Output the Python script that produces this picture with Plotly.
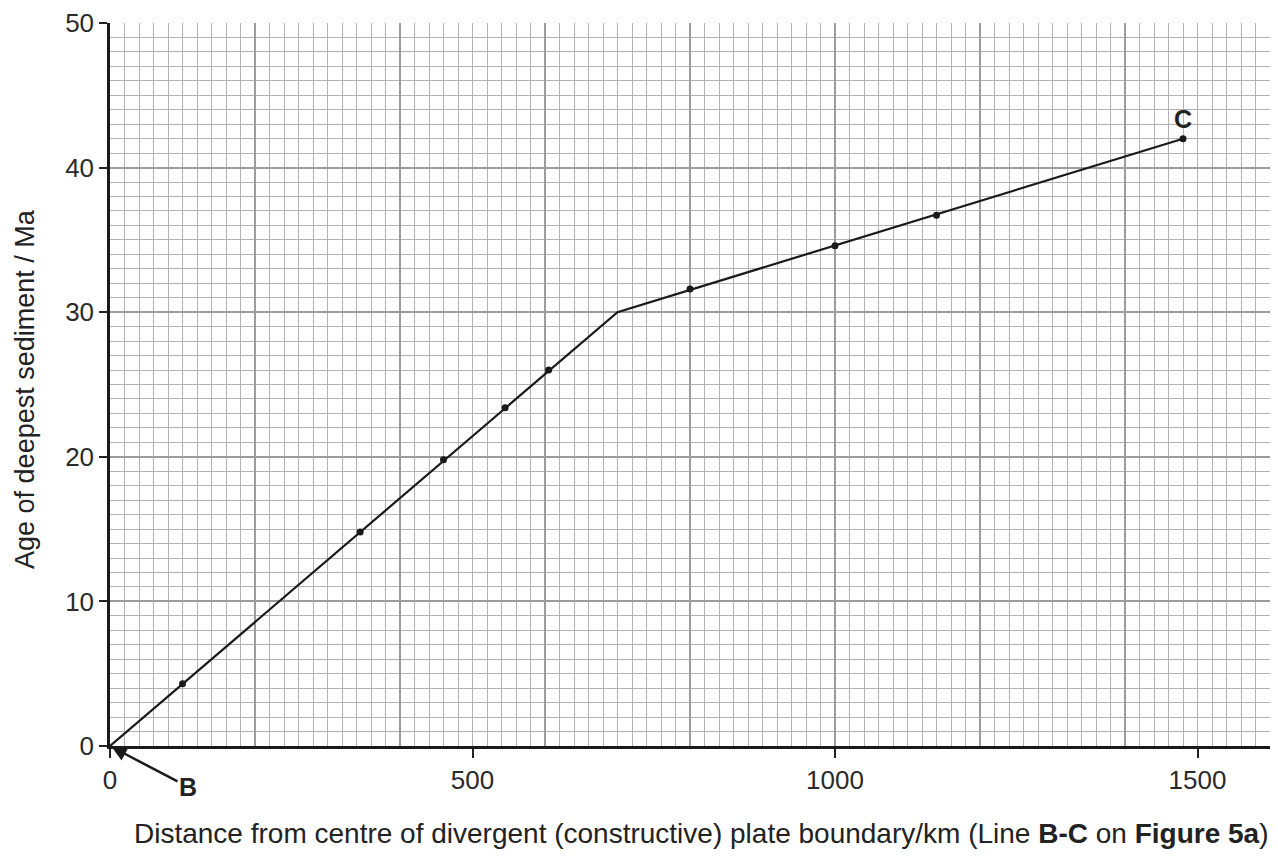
import plotly.graph_objects as go

# Data
line_x = [0, 700, 1480]
line_y = [0, 30, 42]
point_x = [100, 345, 460, 545, 605, 800, 1000, 1140, 1480]
point_y = [4.3, 14.8, 19.8, 23.4, 26.0, 31.6, 34.6, 36.7, 42.0]
x_tickvals = [0, 500, 1000, 1500]
y_tickvals = [0, 10, 20, 30, 40, 50]
x_title = "Distance from centre of divergent (constructive) plate boundary/km (Line <b>B-C</b> on <b>Figure 5a</b>)"
y_title = "Age of deepest sediment / Ma"

FONT = "Liberation Sans, Arial, sans-serif"

fig = go.Figure()
# invisible trace to create the grid subplot
fig.add_trace(go.Scatter(x=[0], y=[0], mode="markers", marker=dict(opacity=0),
                         hoverinfo="skip", showlegend=False, xaxis="x", yaxis="y"))
fig.add_trace(go.Scatter(x=line_x, y=line_y, mode="lines",
                         line=dict(color="#1a1a1a", width=2.2),
                         showlegend=False, xaxis="x2", yaxis="y2"))
fig.add_trace(go.Scatter(x=point_x, y=point_y, mode="markers",
                         marker=dict(color="#1a1a1a", size=7),
                         showlegend=False, xaxis="x2", yaxis="y2"))

grid_major = "#9c9c9c"
grid_minor = "#b2b2b2"

fig.update_layout(
    width=1270, height=849,
    margin=dict(l=102, r=8, t=15, b=111),
    paper_bgcolor="white", plot_bgcolor="white",
    font=dict(family=FONT, color="#222"),
    showlegend=False,
    xaxis=dict(range=[0, 1600], tickmode="linear", tick0=0, dtick=200,
               showgrid=True, gridcolor=grid_major, gridwidth=2.4,
               minor=dict(dtick=20, showgrid=True, gridcolor=grid_minor, gridwidth=1.4),
               showticklabels=False, ticks="", zeroline=False, showline=False,
               automargin=False),
    yaxis=dict(range=[0, 50], tickmode="linear", tick0=0, dtick=10,
               showgrid=True, gridcolor=grid_major, gridwidth=2.4,
               minor=dict(dtick=1, showgrid=True, gridcolor=grid_minor, gridwidth=1.4),
               showticklabels=False, ticks="", zeroline=False, showline=False,
               automargin=False),
    xaxis2=dict(range=[0, 1600], overlaying="x", anchor="y2", side="bottom",
                tickvals=x_tickvals, ticks="outside", ticklen=9, tickwidth=1.5,
                tickcolor="#222", showgrid=False, zeroline=False,
                showline=True, linecolor="#1a1a1a", linewidth=2.5,
                tickfont=dict(size=26, family=FONT, color="#2a2a2a"),
                automargin=False),
    yaxis2=dict(range=[0, 50], overlaying="y", anchor="x2", side="left",
                tickvals=y_tickvals, ticks="outside", ticklen=8, tickwidth=1.5,
                tickcolor="#222", showgrid=False, zeroline=False,
                showline=True, linecolor="#1a1a1a", linewidth=2.5,
                tickfont=dict(size=26, family=FONT, color="#2a2a2a"),
                automargin=False),
)

fig.add_annotation(x=0.5095, y=-0.1217, xref="paper", yref="paper",
                   text=x_title, showarrow=False, xanchor="center", yanchor="middle",
                   font=dict(size=28, family=FONT, color="#222"))
fig.add_annotation(x=-0.0733, y=0.4938, xref="paper", yref="paper",
                   text=y_title, showarrow=False, textangle=-90,
                   xanchor="center", yanchor="middle", borderpad=0,
                   font=dict(size=27, family=FONT, color="#222"))

fig.add_annotation(x=line_x[-1], y=line_y[-1], xref="x2", yref="y2",
                   text="<b>C</b>", showarrow=False, yshift=20,
                   font=dict(size=25, family=FONT, color="#222"))
fig.add_annotation(x=0, y=0, xref="x2", yref="y2", text="<b>B</b>",
                   showarrow=True, ax=78, ay=41, arrowhead=2, arrowsize=1.2,
                   arrowwidth=2.5, arrowcolor="#1a1a1a", standoff=2,
                   font=dict(size=25, family=FONT, color="#222"))

fig.write_html("out.html")
